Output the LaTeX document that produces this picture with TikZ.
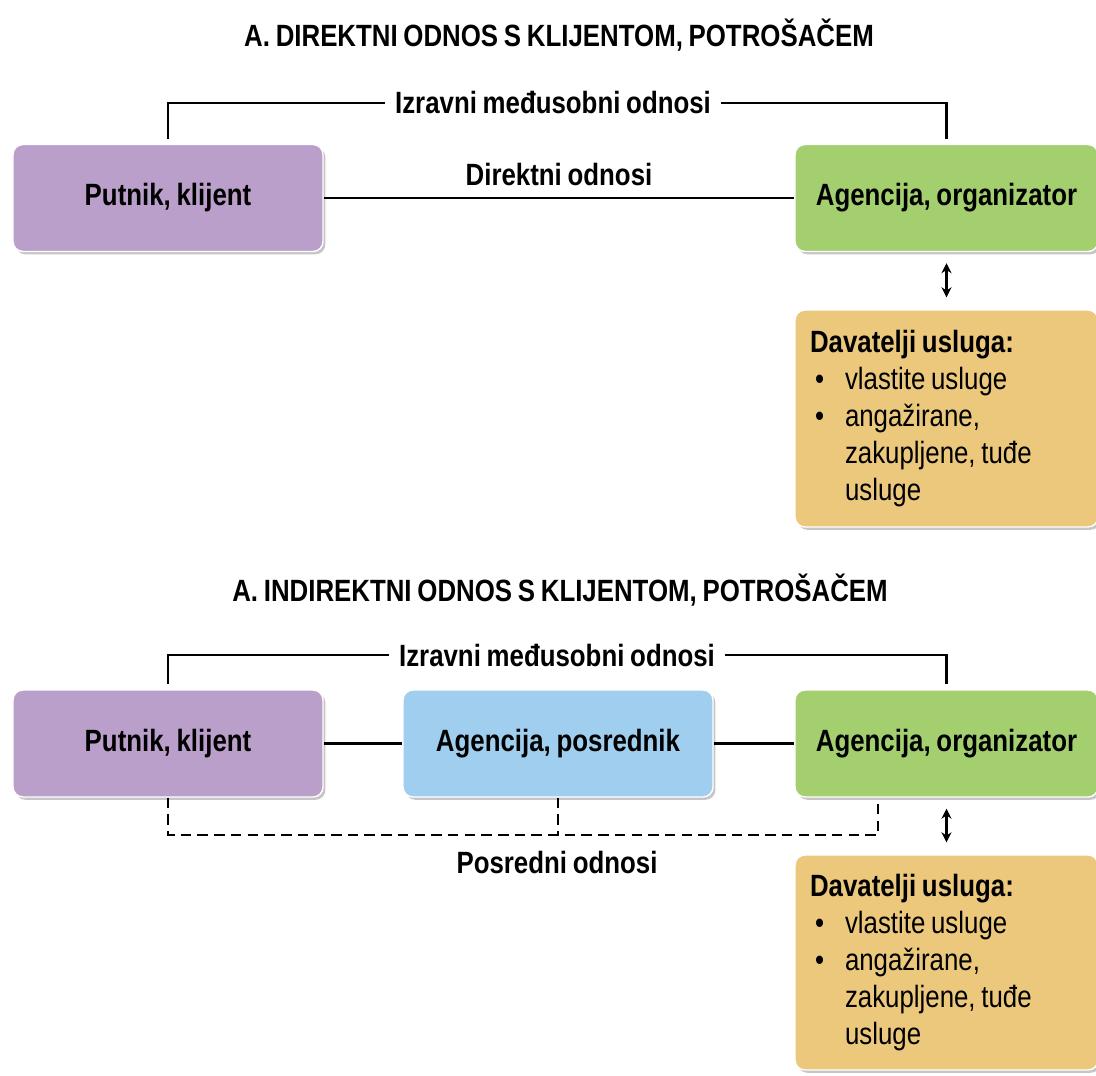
\documentclass[tikz,border=0pt]{standalone}
\usepackage{fontspec}
\setmainfont[FakeStretch=0.84, WordSpace=0.8]{Liberation Sans}
\usetikzlibrary{shadows,arrows.meta}
\definecolor{putnik-col}{HTML}{BA9FCA}
\definecolor{organizator-col}{HTML}{A3CF6F}
\definecolor{posrednik-col}{HTML}{9FCEEE}
\definecolor{davatelji-col}{HTML}{EBC87C}
\newcommand{\diafont}{\fontsize{17.5}{21}\selectfont}
\newcommand{\stavka}{\hspace*{1mm}\makebox[6mm][l]{\textbullet}}
\tikzset{
    rounded-box/.style = {draw=white, thick, rectangle, rounded corners=2mm, minimum height=21.4mm, font=\diafont\bfseries,
        drop shadow={shadow xshift=1.4pt, shadow yshift=-1.6pt, opacity=0.45}},
    list-box/.style = {rounded-box, fill=davatelji-col, font=\diafont, text width=54.6mm, inner xsep=3mm, align=left, minimum width=60.6mm,
        execute at begin node={\spaceskip=0pt\xspaceskip=0pt\relax}},
    title-text/.style = {font=\diafont\bfseries},
    label-text/.style = {font=\diafont\bfseries, inner xsep=2mm},
    link/.style = {draw=black, line width=1.2pt},
    link-arrow/.style = {link, {Stealth[length=2mm,width=2mm]}-{Stealth[length=2mm,width=2mm]}, shorten <=2.2mm, shorten >=2.4mm},
}

\begin{document}
\begin{tikzpicture}[x=0.2mm, y=-0.2mm]
\useasboundingbox (0,0) rectangle (1096,1075);

% A. direktni odnos
\node[title-text] (naslov-a) at (559,35) {A. DIREKTNI ODNOS S KLIJENTOM, POTROŠAČEM};
\node[rounded-box, fill=putnik-col, minimum width=62mm] (putnik-a) at (168,198) {Putnik, klijent};
\node[rounded-box, fill=organizator-col, minimum width=60.6mm] (organizator-a) at (946.5,198) {Agencija, organizator};
\node[label-text] (izravni-a) at (553,103) {Izravni međusobni odnosi};
\draw[link, shorten <=1mm] (putnik-a.north) |- (izravni-a.west);
\draw[link, shorten >=1mm] (izravni-a.east) -| (organizator-a.north);
\draw[link] (putnik-a) -- (organizator-a) node[label-text, midway, above=1mm] (direktni-a) {Direktni odnosi};
\node[list-box, minimum height=43.4mm] (davatelji-a) at (946.5,418.5) {{\bfseries Davatelji usluga:}\\
    \stavka vlastite usluge\\
    \stavka angažirane,\\
    \hspace*{7mm}zakupljene, tuđe\\
    \hspace*{7mm}usluge};
\draw[link-arrow] (organizator-a.south) -- (davatelji-a.north);

% A. indirektni odnos
\node[title-text] (naslov-b) at (560,590) {A. INDIREKTNI ODNOS S KLIJENTOM, POTROŠAČEM};
\node[rounded-box, fill=putnik-col, minimum width=62mm] (putnik-b) at (168,743.5) {Putnik, klijent};
\node[rounded-box, fill=posrednik-col, minimum width=62mm] (posrednik-b) at (558,743.5) {Agencija, posrednik};
\node[rounded-box, fill=organizator-col, minimum width=60.6mm] (organizator-b) at (946.5,743.5) {Agencija, organizator};
\node[label-text] (izravni-b) at (557,655) {Izravni međusobni odnosi};
\draw[link, shorten <=1mm] (putnik-b.north) |- (izravni-b.west);
\draw[link, shorten >=1mm] (izravni-b.east) -| (organizator-b.north);
\draw[link] (putnik-b) -- (posrednik-b);
\draw[link] (posrednik-b) -- (organizator-b);
\coordinate (kut-b) at (878,835);
\coordinate (vrh-b) at (878,800);
\draw[link, dash pattern=on 6pt off 3.5pt] (putnik-b.south) |- (kut-b) -- (vrh-b);
\draw[link, dash pattern=on 6pt off 3.5pt] (posrednik-b.south) -- (posrednik-b.south |- kut-b);
\node[label-text] (posredni-b) at (557,862) {Posredni odnosi};
\node[list-box, minimum height=43mm] (davatelji-b) at (946.5,962.5) {{\bfseries Davatelji usluga:}\\
    \stavka vlastite usluge\\
    \stavka angažirane,\\
    \hspace*{7mm}zakupljene, tuđe\\
    \hspace*{7mm}usluge};
\draw[link-arrow] (organizator-b.south) -- (davatelji-b.north);
\end{tikzpicture}
\end{document}
